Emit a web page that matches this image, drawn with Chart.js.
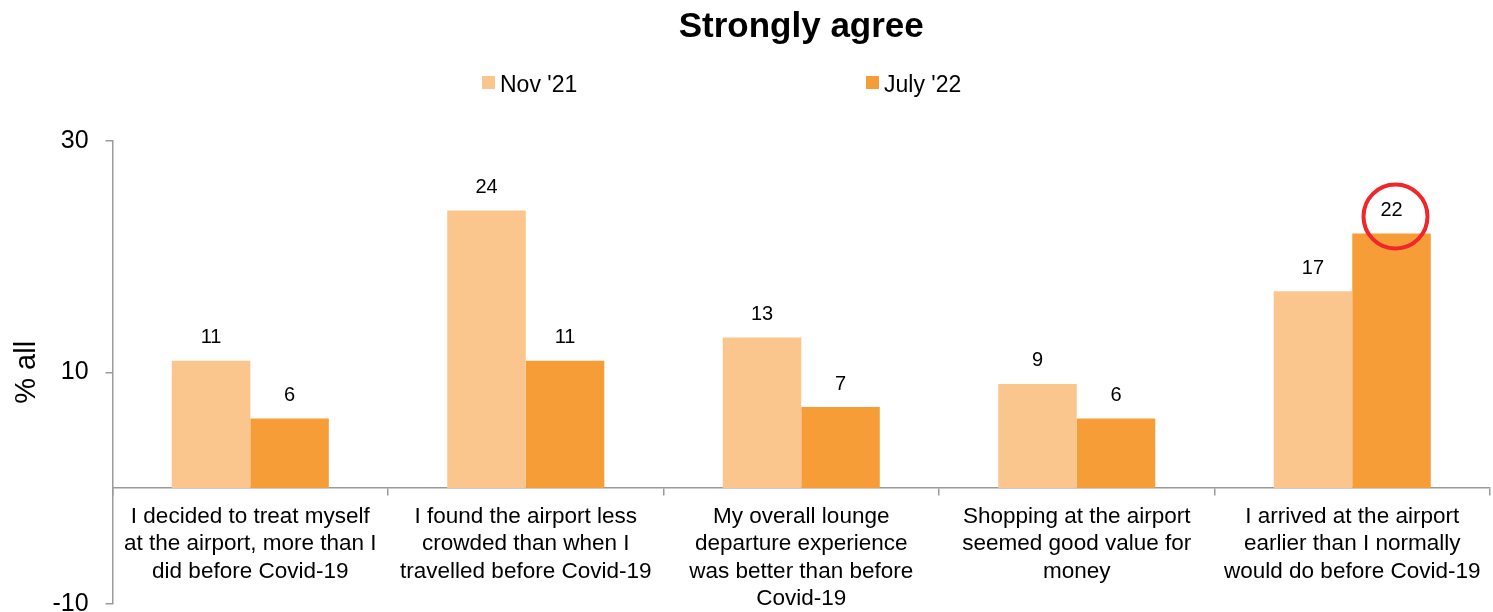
<!DOCTYPE html>
<html>
<head>
<meta charset="utf-8">
<script src="https://cdn.jsdelivr.net/npm/chart.js@4.4.0/dist/chart.umd.min.js"></script>
<style>
  html, body { margin: 0; padding: 0; background: #fff; overflow: hidden; }
  /* un peu plus haut que la fenêtre : le bas de l'axe tombe à 603px */
  #wrap { width: 1493px; height: 630px; }
</style>
</head>
<body>
<div id="wrap"><canvas id="chart"></canvas></div>
<script>
// données
const categories = [
  ["I decided to treat myself", "at the airport, more than I", "did before Covid-19"],
  ["I found the airport less", "crowded than when I", "travelled before Covid-19"],
  ["My overall lounge", "departure experience", "was better than before", "Covid-19"],
  ["Shopping at the airport", "seemed good value for", "money"],
  ["I arrived at the airport", "earlier than I normally", "would do before Covid-19"]
];
const seriesNames = ["Nov '21", "July '22"];
const nov21 = [11, 24, 13, 9, 17];
const july22 = [6, 11, 7, 6, 22];
const yTicks = [-10, 10, 30];
// barre entourée en rouge : [série, index]
const highlighted = [1, 4];

const colors = ["#fbc68d", "#f79d38"];
const axisGrey = "#9a9a9a";
const fontFamily = "'Liberation Sans', Arial, sans-serif";

// étiquettes de valeurs au-dessus des barres + cercle rouge
const valueLabels = {
  id: "valueLabels",
  afterDatasetsDraw(chart) {
    const ctx = chart.ctx;
    ctx.save();
    ctx.font = "20px " + fontFamily;
    ctx.fillStyle = "#000";
    ctx.textAlign = "center";
    ctx.textBaseline = "middle";
    chart.data.datasets.forEach((ds, i) => {
      chart.getDatasetMeta(i).data.forEach((bar, j) => {
        ctx.fillText(String(ds.data[j]), bar.x, bar.y - 23);
      });
    });
    const hb = chart.getDatasetMeta(highlighted[0]).data[highlighted[1]];
    if (hb) {
      ctx.beginPath();
      ctx.strokeStyle = "#f0262b";
      ctx.lineWidth = 4;
      ctx.arc(hb.x + 4, hb.y - 17, 32, 0, Math.PI * 2);
      ctx.stroke();
    }
    ctx.restore();
  }
};

// légende façon Excel, items très espacés
const legendPos = [482, 866];
const customLegend = {
  id: "customLegend",
  afterDraw(chart) {
    const ctx = chart.ctx;
    ctx.save();
    ctx.font = "23px " + fontFamily;
    ctx.textBaseline = "middle";
    ctx.textAlign = "left";
    chart.data.datasets.forEach((ds, i) => {
      const x = legendPos[i];
      ctx.fillStyle = ds.backgroundColor;
      ctx.fillRect(x, 76, 13, 13);
      ctx.fillStyle = "#000";
      ctx.fillText(ds.label, x + 18, 86);
    });
    ctx.restore();
  }
};

new Chart(document.getElementById("chart"), {
  type: "bar",
  data: {
    labels: categories,
    datasets: [
      { label: seriesNames[0], data: nov21, backgroundColor: colors[0] },
      { label: seriesNames[1], data: july22, backgroundColor: colors[1] }
    ]
  },
  options: {
    responsive: true,
    maintainAspectRatio: false,
    animation: false,
    layout: { padding: { left: 18, right: 3, top: 0, bottom: 0 } },
    datasets: {
      bar: { categoryPercentage: 0.57, barPercentage: 1.0 }
    },
    plugins: {
      legend: { display: false },
      tooltip: { enabled: false },
      title: {
        display: true,
        fullSize: false,
        text: "Strongly agree",
        color: "#000",
        font: { family: fontFamily, size: 35, weight: "bold", lineHeight: 1.2 },
        padding: { top: 6, bottom: 93 }
      }
    },
    scales: {
      x: {
        position: { y: 0 },
        border: { color: axisGrey, width: 1.5 },
        grid: {
          offset: true,
          drawOnChartArea: false,
          drawTicks: true,
          tickLength: 7,
          color: axisGrey,
          lineWidth: 1.5
        },
        ticks: {
          color: "#000",
          font: { family: fontFamily, size: 22.5, lineHeight: 1.22 },
          maxRotation: 0,
          minRotation: 0,
          autoSkip: false,
          padding: 8
        }
      },
      y: {
        min: -10,
        max: 30,
        afterBuildTicks(scale) {
          scale.ticks = yTicks.map(v => ({ value: v }));
        },
        border: { color: axisGrey, width: 1.5 },
        grid: {
          drawOnChartArea: false,
          drawTicks: true,
          tickLength: 7,
          color: axisGrey,
          lineWidth: 1.5
        },
        ticks: {
          color: "#000",
          font: { family: fontFamily, size: 25, lineHeight: 0.75 },
          padding: 17
        },
        title: {
          display: true,
          text: "% all",
          color: "#000",
          font: { family: fontFamily, size: 29, lineHeight: 0.6 },
          padding: { top: 0, bottom: 0 }
        }
      }
    }
  },
  plugins: [valueLabels, customLegend]
});
</script>
</body>
</html>
